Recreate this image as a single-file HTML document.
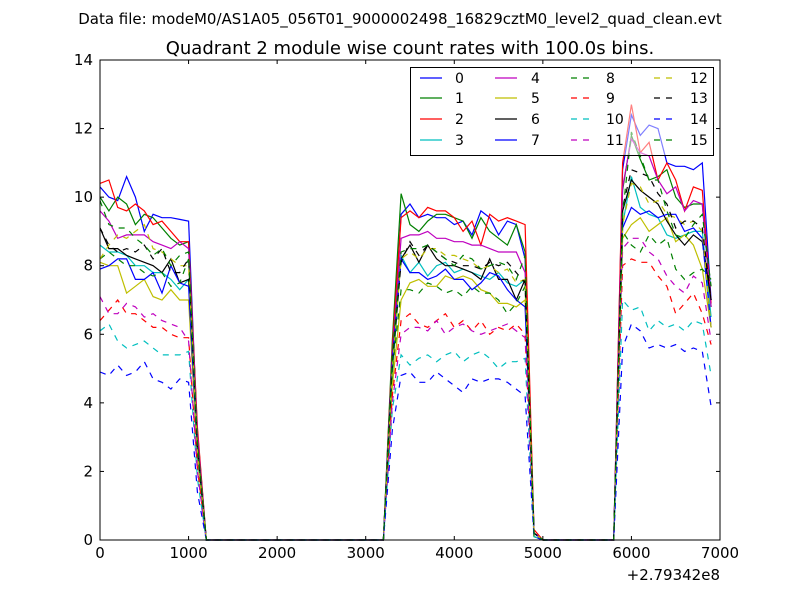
<!DOCTYPE html>
<html><head><meta charset="utf-8"><style>
body{margin:0;background:#fff;font-family:"Liberation Sans","DejaVu Sans",sans-serif}
svg text{font-family:"DejaVu Sans","Liberation Sans",sans-serif}
</style></head><body>
<svg id="chart" width="800" height="600">
<rect width="800" height="600" fill="#fff"/>
<text x="400" y="24" text-anchor="middle" font-size="15">Data file: modeM0/AS1A05_056T01_9000002498_16829cztM0_level2_quad_clean.evt</text>
<text x="410" y="54" text-anchor="middle" font-size="18">Quadrant 2 module wise count rates with 100.0s bins.</text>
<g id="series"></g>
<rect x="100" y="60" width="620" height="480" fill="none" stroke="#000"/>
<g id="axes"></g>
<g id="legend"></g>
</svg>
<script>
const xTicks=[0,1000,2000,3000,4000,5000,6000,7000];
const yTicks=[0,2,4,6,8,10,12,14];
const binTimes=[];for(let t=0;t<=6900;t+=100)binTimes.push(t);
const seriesNames=["0","1","2","3","4","5","6","7","8","9","10","11","12","13","14","15"];
const Z20=[0,0,0,0,0,0,0,0,0,0,0,0,0,0,0,0,0,0,0,0];
const Z9=[0,0,0,0,0,0,0,0,0];
const seg1=[
[10.3,10,9.9,10.6,10,9,9.5,9.4,9.4,9.35,9.3],
[10,9.6,10,9.8,9.2,9.5,9.4,9.1,8.8,8.6,8.7],
[10.4,10.5,9.7,9.6,9.8,9.6,9.2,9.3,9,8.7,8.7],
[8.6,8.4,8.4,8.3,8,8,7.8,7.8,7.6,7.3,7.6],
[9.6,9.3,8.8,8.9,8.9,8.9,8.7,8.6,8.5,8.7,8.5],
[8.1,8,8,7.2,7.4,7.6,7.1,7,7.3,7,7],
[9.1,8.5,8.5,8.3,8.2,8.1,8,7.8,8.2,7.5,7.6],
[7.9,8,8.2,8.2,7.6,7.6,7.8,7.2,8,7.5,7.4],
[8.2,8.4,8.2,8,8,7.8,7.7,7.8,7.4,7.5,8.2],
[6.4,6.7,7,6.6,6.6,6.4,6.2,6.2,6,5.9,5.9],
[6.1,6.3,5.8,5.6,5.7,5.8,5.6,5.4,5.4,5.4,5.5],
[7.1,6.6,6.6,6.9,6.8,6.5,6.6,6.4,6.3,6.2,5.8],
[8.2,8.6,8.9,8.8,9,9.2,8.5,8.4,8.2,8,8],
[9.1,8.6,8.4,8.5,8.4,8.6,8.2,8.5,7.8,7.8,8.2],
[4.9,4.8,5.1,4.8,4.9,5.2,4.7,4.6,4.4,4.7,4.6],
[9.9,9.2,9.1,9.1,8.8,8.6,8.3,8.5,8,8.3,8.4]];
const drop1=[3,3.2,3.3,2.5,3.1,2.4,2.8,2.6,2.7,2.1,1.8,2,2.6,2.7,1.4,2.9];
const rise2=[5.5,5.8,5.6,4.8,5.4,4.5,5.2,5.2,4.9,4.2,3.8,4,5,5.1,3.2,5.4];
const seg2=[
[9.5,9.8,9.4,9.5,9.4,9.4,9.2,9.3,8.9,9.6,9.4,8.9,9.3,9.2,8.2],
[10.1,9.2,9,9.3,9.5,9.5,9.4,9.3,8.8,9.4,9,8.8,8.6,9.2,8.4],
[9.4,9.6,9.4,9.7,9.6,9.6,9.4,9,9.3,8.6,9.5,9.3,9.4,9.3,9.2],
[8.3,7.8,8.1,7.7,8,8.1,7.8,7.9,7.8,7.7,7.6,7.8,7.5,7.4,7.6],
[8.8,8.9,8.9,9,8.8,8.8,8.7,8.7,8.6,8.6,8.5,8.4,8.4,8.4,7.8],
[7,7.5,7.6,7.4,7.4,7.7,7.6,7.7,7.6,7.3,7.2,6.9,6.9,6.8,7],
[8.2,8.6,8.1,8.6,8.2,8,8,7.9,7.8,7.6,8.2,7.6,7.6,7,7.6],
[8.2,7.8,7.8,7.6,7.7,7.9,7.6,7.6,7.3,7.5,7.8,7.7,7.3,7,6.8],
[7.3,7.3,7.2,7.5,7.4,7.2,7.3,7.1,7.4,7.2,7.2,7,6.6,6.9,7.4],
[6.4,6.6,6.3,6.2,6.4,6.6,6.2,6.4,6.1,6.4,6,6.2,6.1,6.3,6],
[5.4,5.1,5.3,5.4,5.2,5.4,5.5,5.2,5.4,5.5,5.3,5,5.2,5.2,5.3],
[6,6.2,6.2,6.1,6.4,6,6.2,6.3,6.1,6,6.1,6.2,6.3,6.1,5.9],
[8.2,8.4,8.2,8.5,8.5,8.3,8.3,8.2,8.1,7.9,8,7.8,7.9,7.5,7.6],
[8.1,8.7,8.3,8.6,8.4,8.2,8.1,8,8,7.9,8.1,8,8.1,7.8,7.5],
[4.8,4.9,4.6,4.6,4.9,4.7,4.5,4.3,4.7,4.6,4.7,4.7,4.6,4.4,4.2],
[8.4,8.5,8.5,8.6,8.4,8.2,8,8.3,8.2,7.9,8,8.1,8,7.6,8.3]];
const drop2=[0.2,0.2,0.3,0.2,0.2,0.1,0.2,0.2,0.1,0.2,0.1,0.2,0.2,0.2,0.1,0.2];
const rise3=[10.8,10.2,11,9.2,10.3,8.8,9.6,9.1,9,8,7,8.5,9.2,9.7,5.6,9.5];
const seg3=[
[12.4,11.8,12.1,12,11,10.9,10.9,10.8,11],
[11.8,11.1,10.5,10.6,10.8,10,9.7,9.8,9.8],
[12.7,11.3,11.6,10.5,11,10.5,9.6,10.3,10.2],
[10.6,9.7,9.5,9.4,8.9,8.8,8.9,9,9],
[11.7,11.3,11.2,10.5,10.1,10.3,9.6,9.9,9.8],
[9.2,9.4,9,9.2,9.4,8.7,8.9,8.6,7.9],
[10.5,10.2,10,9.8,9.3,8.9,8.6,8.9,8.7],
[9.7,9.5,9.6,9.4,9.5,9.5,9,9.1,8.8],
[8.6,8.4,8.9,8.6,8.8,7.9,7.6,7.8,7.9],
[8.2,8.1,8.1,7.7,7.4,6.6,6.9,7.2,6.6],
[6.7,6.8,6.1,6.4,6.2,6.3,6.1,6.4,6.3],
[8.8,8.8,8.4,8.2,7.7,7.4,7.2,7.7,7.5],
[10.4,10.3,9.8,9.9,9.5,9.4,9.2,9.3,9],
[10.8,10.7,10.6,10.1,9.8,9.1,9.3,9.3,9.1],
[6.3,6.1,5.6,5.7,5.6,5.7,5.5,5.6,5.5],
[11.9,11.2,10.5,10.5,9.6,8.9,8.8,9.2,9.5]];
const end3=[7,6.8,6.9,6.5,6.8,6.2,7,6.2,7.6,5.7,4.8,5.8,6.2,7,3.9,7.4];

const colors=["#0000ff","#008000","#ff0000","#00bfbf","#bf00bf","#bfbf00","#000000"];
const NS="http://www.w3.org/2000/svg";
const X0=100,X1=720,Y0=540,Y1=60;
const xs=v=>X0+(v-0)/7000*(X1-X0);
const ys=v=>Y0-(v/14)*(Y0-Y1);
function mk(tag,attrs,parent){const e=document.createElementNS(NS,tag);for(const k in attrs)e.setAttribute(k,attrs[k]);parent.appendChild(e);return e;}
const sg=document.getElementById('series');
for(let i=0;i<16;i++){
  const vals=[].concat(seg1[i],[drop1[i],0],Z20,[rise2[i]],seg2[i],[drop2[i]],Z9,[rise3[i]],seg3[i],[end3[i]]);
  const pts=vals.map((v,j)=>xs(binTimes[j]).toFixed(1)+","+ys(v).toFixed(1)).join(" ");
  const col=colors[i%7];
  const a={points:pts,fill:"none",stroke:col,"stroke-width":1.2};
  if(i>=8)a["stroke-dasharray"]="6,6";
  const p=mk('polyline',a,sg);
  
  
}
const ax=document.getElementById('axes');
xTicks.forEach(t=>{const x=xs(t);
  mk('line',{x1:x,x2:x,y1:540,y2:536,stroke:"#000"},ax);
  mk('line',{x1:x,x2:x,y1:60,y2:64,stroke:"#000"},ax);
  const tx=mk('text',{x:x,y:558,"text-anchor":"middle","font-size":15},ax);tx.textContent=t;
  
  
});
yTicks.forEach(t=>{const y=ys(t);
  mk('line',{x1:100,x2:104,y1:y,y2:y,stroke:"#000"},ax);
  mk('line',{x1:720,x2:716,y1:y,y2:y,stroke:"#000"},ax);
  const tx=mk('text',{x:93,y:y+5,"text-anchor":"end","font-size":15},ax);tx.textContent=t;
  
  
});
const off=mk('text',{x:720,y:580,"text-anchor":"end","font-size":15},ax);off.textContent="+2.79342e8";


const lg=document.getElementById('legend');
const box=mk('rect',{x:410.5,y:67.5,width:303,height:88,fill:"#fff","fill-opacity":0.5,stroke:"#000"},lg);


const lineX=[420,495,571,654],textX=[455,531,606,690],rowY=[78,98,119,140];
for(let i=0;i<16;i++){
  const c=Math.floor(i/4),r=i%4;
  const col=colors[i%7];
  const a={x1:lineX[c],x2:lineX[c]+22,y1:rowY[r],y2:rowY[r],stroke:col,"stroke-width":1.2};
  if(i>=8)a["stroke-dasharray"]="6,6";
  const l=mk('line',a,lg);
  
  
  const t=mk('text',{x:textX[c],y:rowY[r]+5,"font-size":14},lg);t.textContent=seriesNames[i];
  
  
}
</script>
</body></html>
